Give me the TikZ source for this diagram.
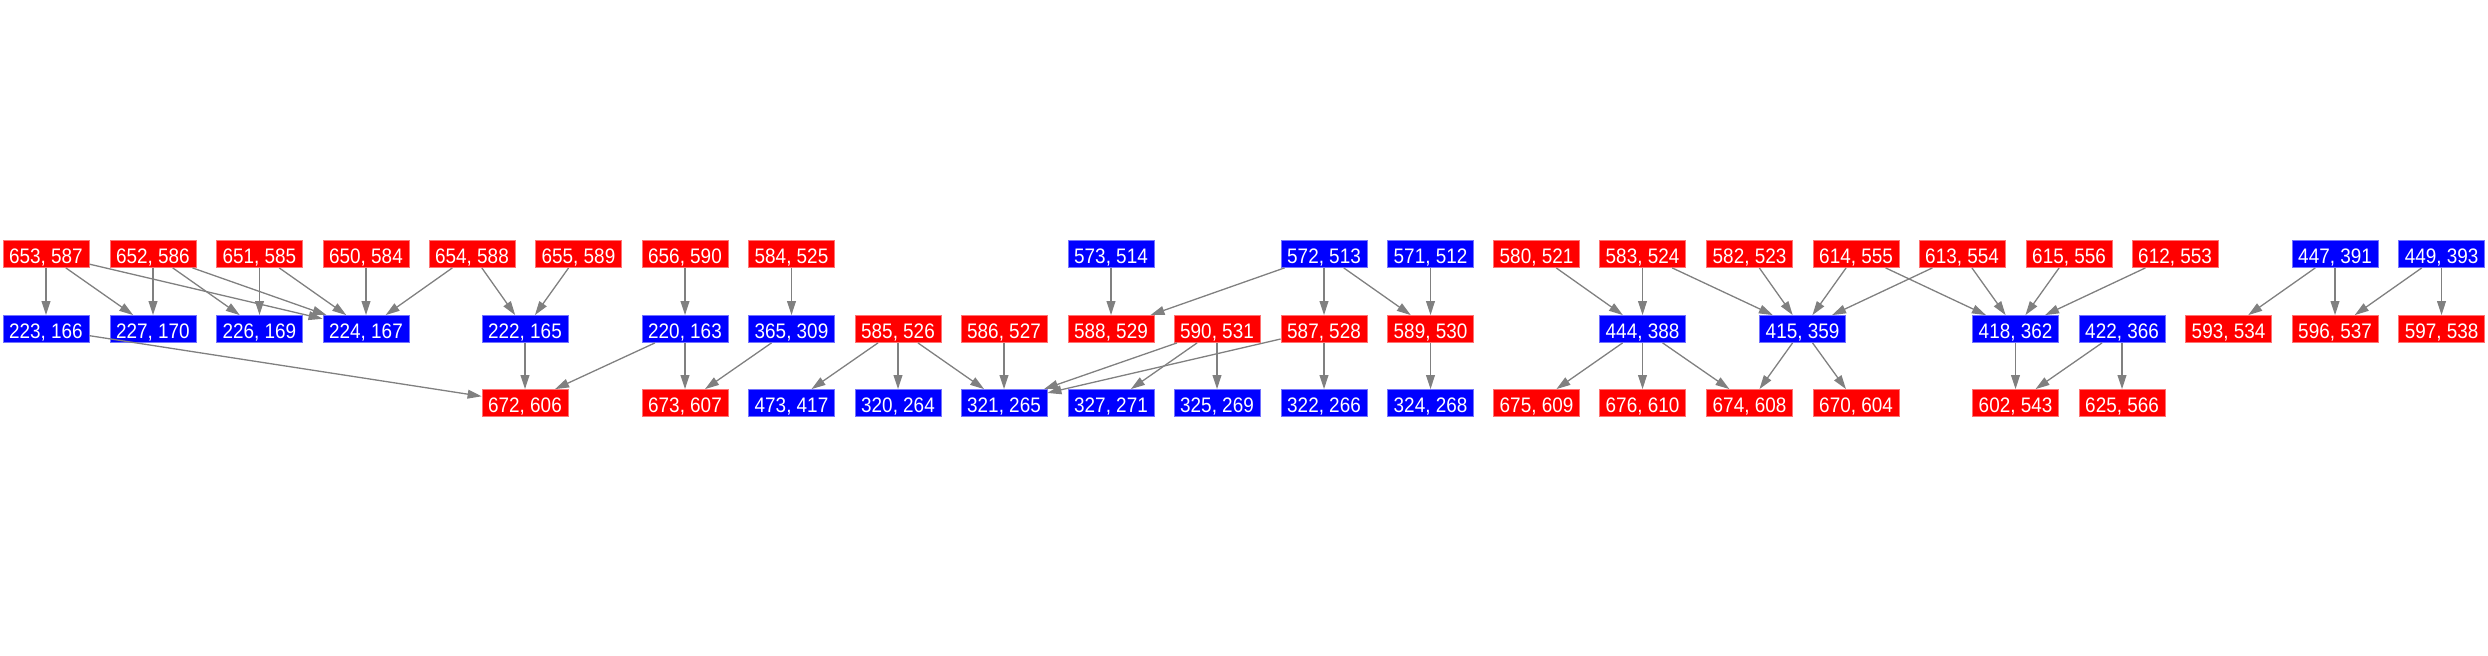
\documentclass[tikz,border=0pt]{standalone}
\usepackage{fontspec}
\setmainfont{Liberation Sans}[FakeStretch=0.9]
\usetikzlibrary{arrows.meta}

\begin{document}
\begin{tikzpicture}[x=0.5pt,y=-0.5pt,>={Triangle[length=7pt,width=4.4pt]},
        box/.style={minimum width=43pt,minimum height=13.5pt,inner sep=0pt,text height=11.5pt,text depth=2pt,text=white,font=\fontsize{10.5pt}{12pt}\selectfont,line width=0.4pt},
        redbox/.style={box,fill=red,draw=red!55!white},
        bluebox/.style={box,fill=blue,draw=blue!55!white},
        link/.style={->,color=gray,line width=0.65pt}]
        \useasboundingbox (0,0) rectangle (2488,656);
        \node[redbox] (n653) at (46,254) {653, 587};
        \node[redbox] (n652) at (153,254) {652, 586};
        \node[redbox] (n651) at (259.5,254) {651, 585};
        \node[redbox] (n650) at (366,254) {650, 584};
        \node[redbox] (n654) at (472,254) {654, 588};
        \node[redbox] (n655) at (578.5,254) {655, 589};
        \node[redbox] (n656) at (685,254) {656, 590};
        \node[redbox] (n584) at (791.5,254) {584, 525};
        \node[bluebox] (n573) at (1111,254) {573, 514};
        \node[bluebox] (n572) at (1324,254) {572, 513};
        \node[bluebox] (n571) at (1430.5,254) {571, 512};
        \node[redbox] (n580) at (1536.5,254) {580, 521};
        \node[redbox] (n583) at (1642.5,254) {583, 524};
        \node[redbox] (n582) at (1749.5,254) {582, 523};
        \node[redbox] (n614) at (1856,254) {614, 555};
        \node[redbox] (n613) at (1962,254) {613, 554};
        \node[redbox] (n615) at (2069,254) {615, 556};
        \node[redbox] (n612) at (2175,254) {612, 553};
        \node[bluebox] (n447) at (2335,254) {447, 391};
        \node[bluebox] (n449) at (2441.5,254) {449, 393};

        \node[bluebox] (n223) at (46,329) {223, 166};
        \node[bluebox] (n227) at (153,329) {227, 170};
        \node[bluebox] (n226) at (259.5,329) {226, 169};
        \node[bluebox] (n224) at (366,329) {224, 167};
        \node[bluebox] (n222) at (525,329) {222, 165};
        \node[bluebox] (n220) at (685,329) {220, 163};
        \node[bluebox] (n365) at (791.5,329) {365, 309};
        \node[redbox] (n585) at (898,329) {585, 526};
        \node[redbox] (n586) at (1004,329) {586, 527};
        \node[redbox] (n588) at (1111,329) {588, 529};
        \node[redbox] (n590) at (1217,329) {590, 531};
        \node[redbox] (n587) at (1324,329) {587, 528};
        \node[redbox] (n589) at (1430.5,329) {589, 530};
        \node[bluebox] (n444) at (1642.5,329) {444, 388};
        \node[bluebox] (n415) at (1802.5,329) {415, 359};
        \node[bluebox] (n418) at (2015.5,329) {418, 362};
        \node[bluebox] (n422) at (2122,329) {422, 366};
        \node[redbox] (n593) at (2228.5,329) {593, 534};
        \node[redbox] (n596) at (2335,329) {596, 537};
        \node[redbox] (n597) at (2441.5,329) {597, 538};

        \node[redbox] (n672) at (525,403) {672, 606};
        \node[redbox] (n673) at (685,403) {673, 607};
        \node[bluebox] (n473) at (791.5,403) {473, 417};
        \node[bluebox] (n320) at (898,403) {320, 264};
        \node[bluebox] (n321) at (1004,403) {321, 265};
        \node[bluebox] (n327) at (1111,403) {327, 271};
        \node[bluebox] (n325) at (1217,403) {325, 269};
        \node[bluebox] (n322) at (1324,403) {322, 266};
        \node[bluebox] (n324) at (1430.5,403) {324, 268};
        \node[redbox] (n675) at (1536.5,403) {675, 609};
        \node[redbox] (n676) at (1642.5,403) {676, 610};
        \node[redbox] (n674) at (1749.5,403) {674, 608};
        \node[redbox] (n670) at (1856,403) {670, 604};
        \node[redbox] (n602) at (2015.5,403) {602, 543};
        \node[redbox] (n625) at (2122,403) {625, 566};

        \draw[link] (n653) -- (n223);
        \draw[link] (n653) -- (n227);
        \draw[link] (n653) -- (n224);
        \draw[link] (n652) -- (n227);
        \draw[link] (n652) -- (n226);
        \draw[link] (n652) -- (n224);
        \draw[link] (n651) -- (n226);
        \draw[link] (n651) -- (n224);
        \draw[link] (n650) -- (n224);
        \draw[link] (n654) -- (n224);
        \draw[link] (n654) -- (n222);
        \draw[link] (n655) -- (n222);
        \draw[link] (n223) -- (n672);
        \draw[link] (n222) -- (n672);
        \draw[link] (n220) -- (n672);
        \draw[link] (n656) -- (n220);
        \draw[link] (n220) -- (n673);
        \draw[link] (n584) -- (n365);
        \draw[link] (n365) -- (n673);
        \draw[link] (n585) -- (n473);
        \draw[link] (n585) -- (n320);
        \draw[link] (n585) -- (n321);
        \draw[link] (n586) -- (n321);
        \draw[link] (n590) -- (n321);
        \draw[link] (n590) -- (n327);
        \draw[link] (n590) -- (n325);
        \draw[link] (n587) -- (n321);
        \draw[link] (n587) -- (n322);
        \draw[link] (n573) -- (n588);
        \draw[link] (n572) -- (n588);
        \draw[link] (n572) -- (n587);
        \draw[link] (n572) -- (n589);
        \draw[link] (n571) -- (n589);
        \draw[link] (n589) -- (n324);
        \draw[link] (n580) -- (n444);
        \draw[link] (n583) -- (n444);
        \draw[link] (n583) -- (n415);
        \draw[link] (n582) -- (n415);
        \draw[link] (n614) -- (n415);
        \draw[link] (n613) -- (n415);
        \draw[link] (n614) -- (n418);
        \draw[link] (n613) -- (n418);
        \draw[link] (n615) -- (n418);
        \draw[link] (n612) -- (n418);
        \draw[link] (n444) -- (n675);
        \draw[link] (n444) -- (n676);
        \draw[link] (n444) -- (n674);
        \draw[link] (n415) -- (n674);
        \draw[link] (n415) -- (n670);
        \draw[link] (n418) -- (n602);
        \draw[link] (n422) -- (n602);
        \draw[link] (n422) -- (n625);
        \draw[link] (n447) -- (n593);
        \draw[link] (n447) -- (n596);
        \draw[link] (n449) -- (n596);
        \draw[link] (n449) -- (n597);
\end{tikzpicture}
\end{document}
